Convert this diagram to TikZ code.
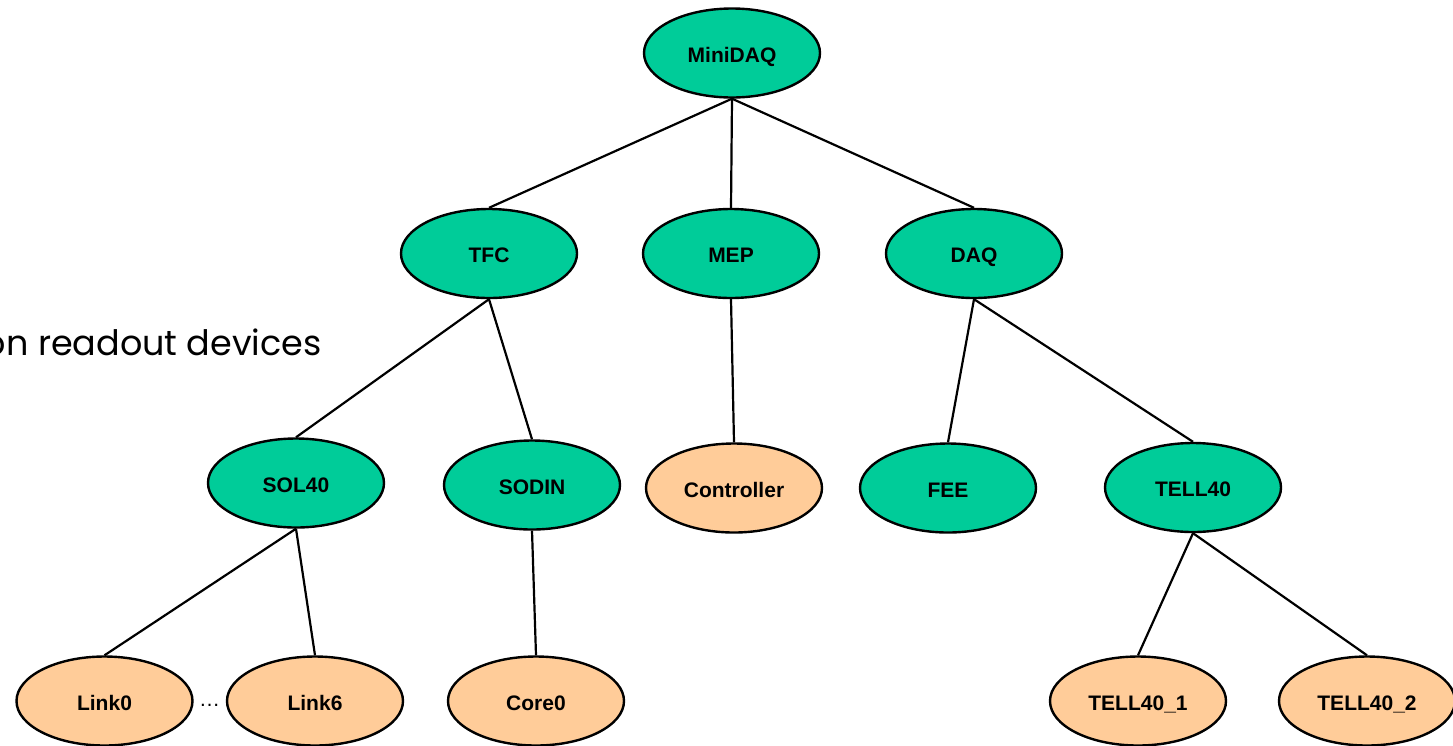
\documentclass[tikz,border=0pt]{standalone}
\usepackage{fontspec}
\setmainfont{Liberation Sans}
\newfontfamily\slidefont{Poppins}
\usetikzlibrary{shapes.geometric}
\definecolor{unitgreen}{RGB}{0,204,153}
\definecolor{unitpeach}{RGB}{255,204,153}
\tikzset{
  unit/.style={ellipse, draw=black, line width=2.4pt, minimum width=176pt,
    minimum height=89pt, inner sep=0pt, text height=18pt, text depth=0pt,
    font=\fontsize{21}{24}\selectfont\bfseries},
  group/.style={unit, fill=unitgreen},
  leaf/.style={unit, fill=unitpeach},
  link/.style={draw=black, line width=2.2pt}
}
\begin{document}
\begin{tikzpicture}[x=1pt,y=-1pt]
  \useasboundingbox (0,0) rectangle (1453,745);
  \clip (0,0) rectangle (1453,745);

  % top level
  \node[group] (minidaq) at (732,53) {MiniDAQ};

  % subsystems
  \node[group] (tfc) at (489,253.5) {TFC};
  \node[group] (mep) at (731,253.5) {MEP};
  \node[group] (daq) at (974,253.5) {DAQ};

  % boards
  \node[group] (sol40) at (296,483) {SOL40};
  \node[group] (sodin) at (532,485) {SODIN};
  \node[leaf]  (ctrl) at (734,488) {Controller};
  \node[group] (fee) at (948,488) {FEE};
  \node[group] (tell40) at (1193,487.5) {TELL40};

  % endpoints
  \node[leaf] (link0) at (104.5,701) {Link0};
  \node[leaf] (link6) at (315,701) {Link6};
  \node[leaf] (core0) at (536,701) {Core0};
  \node[leaf] (tella) at (1138,701) {TELL40\_1};
  \node[leaf] (tellb) at (1367,701) {TELL40\_2};

  \node[font=\fontsize{21}{24}\selectfont, inner sep=0pt, anchor=base] (dots) at (209.5,706) {…};

  % hierarchy
  \draw[link] (minidaq.south) -- (tfc.north);
  \draw[link] (minidaq.south) -- (mep.north);
  \draw[link] (minidaq.south) -- (daq.north);
  \draw[link] (tfc.south) -- (sol40.north);
  \draw[link] (tfc.south) -- (sodin.north);
  \draw[link] (mep.south) -- (ctrl.north);
  \draw[link] (daq.south) -- (fee.north);
  \draw[link] (daq.south) -- (tell40.north);
  \draw[link] (sol40.south) -- (link0.north);
  \draw[link] (sol40.south) -- (link6.north);
  \draw[link] (sodin.south) -- (core0.north);
  \draw[link] (tell40.south) -- (tella.north);
  \draw[link] (tell40.south) -- (tellb.north);

  % slide text running in from the left
  \node[font=\slidefont\fontsize{35}{40}\selectfont, inner sep=0pt, anchor=base east] (caption) at (322,355) {on readout devices};
\end{tikzpicture}
\end{document}
